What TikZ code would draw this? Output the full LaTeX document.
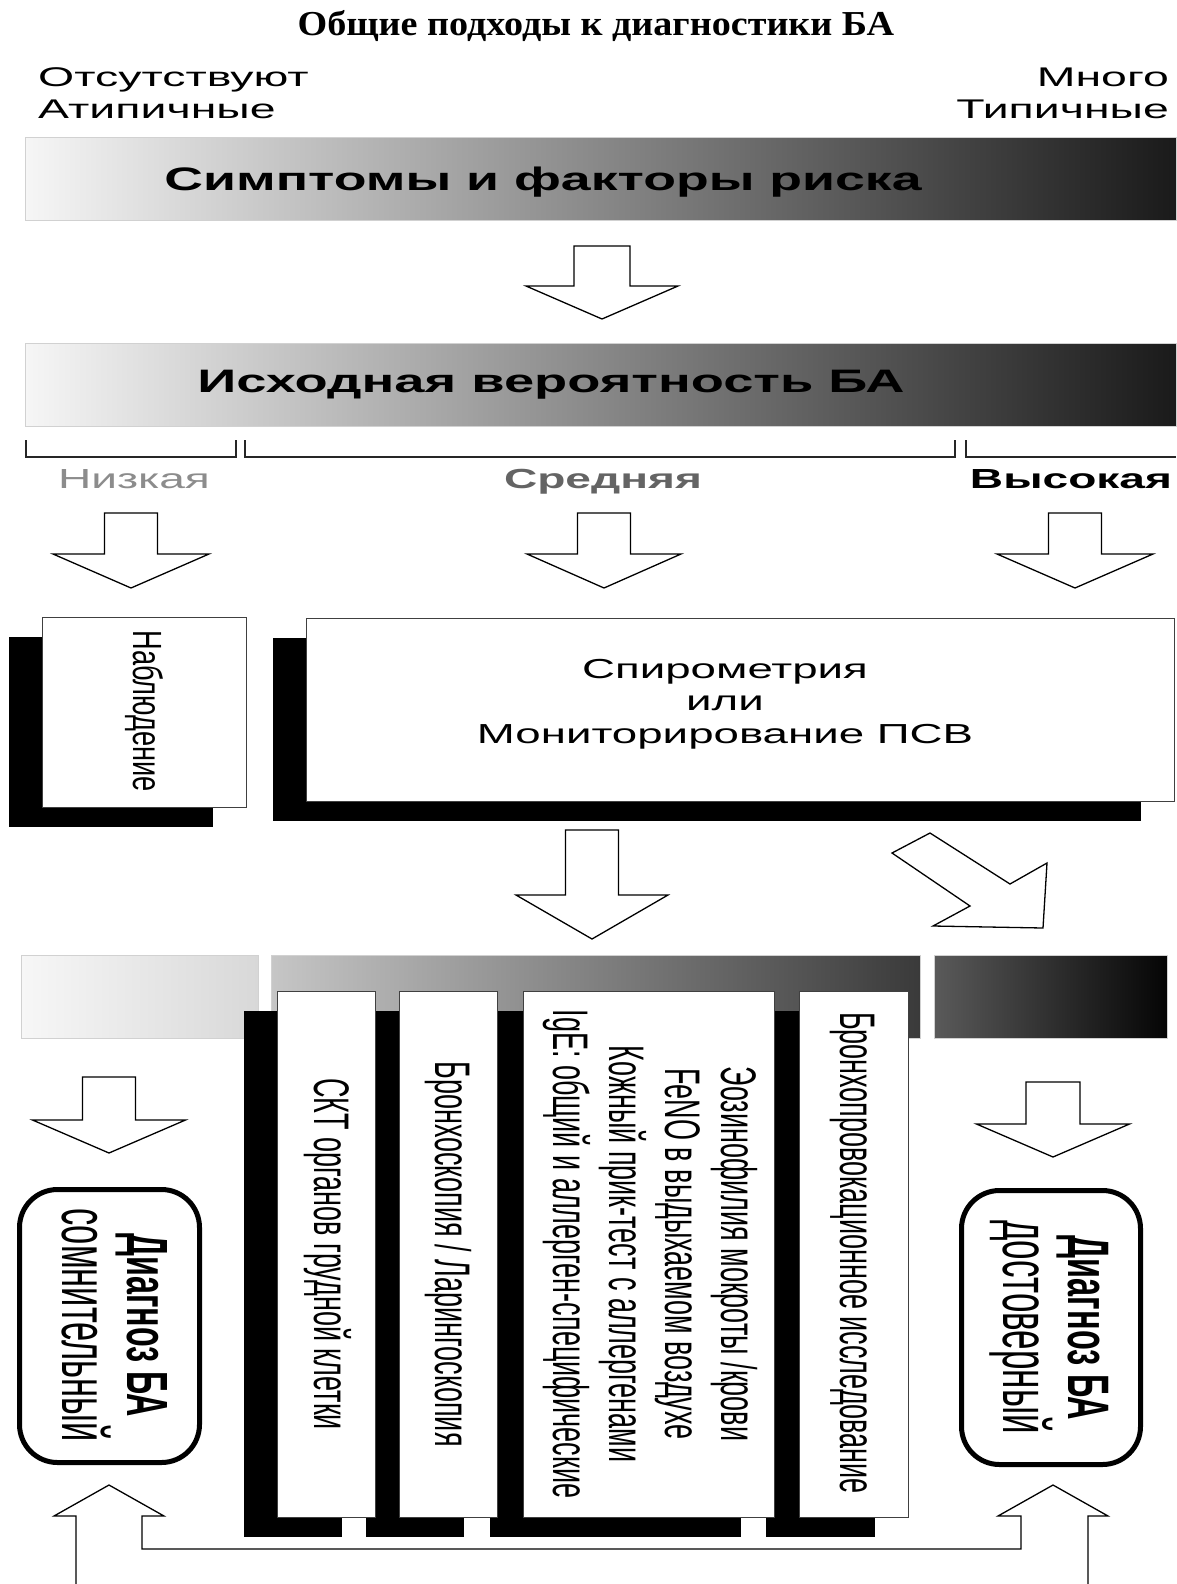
\documentclass[tikz,border=0pt]{standalone}
\usepackage{fontspec}
\setmainfont{Liberation Sans}
\newfontfamily\serifttl{Liberation Serif}
\usepackage{graphicx}
\newcommand{\fs}[1]{\fontsize{#1}{#1}\selectfont}
\newcommand{\hx}[2]{\scalebox{#1}[1]{#2}}
\newcommand{\vx}[2]{\scalebox{1}[#1]{#2}}
\definecolor{barL}{HTML}{F6F6F6}
\definecolor{barR}{HTML}{1A1A1A}
\definecolor{bOneL}{HTML}{F7F7F7}
\definecolor{bOneR}{HTML}{D8D8D8}
\definecolor{bTwoL}{HTML}{C6C6C6}
\definecolor{bTwoR}{HTML}{3A3A3A}
\definecolor{bThrL}{HTML}{5A5A5A}
\definecolor{bThrR}{HTML}{050505}
\definecolor{lowgray}{HTML}{8C8C8C}
\definecolor{midgray}{HTML}{646464}
\newcommand{\dnarrow}[6]{%
  \draw[blockarrow] (#1-#5,#2) -- (#1+#5,#2) -- (#1+#5,#3) -- (#1+#6,#3) -- (#1,#4) -- (#1-#6,#3) -- (#1-#5,#3) -- cycle;}
\begin{document}
\begin{tikzpicture}[x=1pt,y=-1pt,
  blockarrow/.style={draw=black, line width=1.3pt, fill=white, line join=miter},
  gbar/.style={draw=black!18, line width=1pt, inner sep=0pt},
  whitebox/.style={draw=black!75, line width=1pt, fill=white, inner sep=0pt},
  shadowbox/.style={fill=black, inner sep=0pt},
  diagbox/.style={draw=black, line width=5pt, rounded corners=38pt, fill=white, inner sep=0pt},
  txt/.style={inner sep=0pt, anchor=base},
  vtxt/.style={inner sep=0pt, rotate=-90},
  bracket/.style={draw=black!85, line width=1.4pt}
]
\fill[white] (0,0) rectangle (1176,1584);
\useasboundingbox (0,0) rectangle (1176,1584);

% title
\node[txt, font=\serifttl\bfseries\fs{35}] (title) at (596,35.5) {\hx{1.09}{Общие подходы к диагностики БА}};

% top labels
\node[txt, anchor=base west, font=\fs{27}] (absent) at (38,87) {\hx{1.72}{Отсутствуют}};
\node[txt, anchor=base west, font=\fs{27}] (atyp) at (38,118) {\hx{1.72}{Атипичные}};
\node[txt, anchor=base east, font=\fs{27}] (many) at (1169,87) {\hx{1.72}{Много}};
\node[txt, anchor=base east, font=\fs{27}] (typ) at (1169,118) {\hx{1.72}{Типичные}};

% bar 1
\node[gbar, left color=barL, right color=barR, minimum width=1151pt, minimum height=82pt] (bar1) at (600.5,179) {};
\node[txt, font=\bfseries\fs{32.5}] (bar1t) at (543,190) {\hx{1.65}{Симптомы и факторы риска}};

\dnarrow{602}{246}{286}{319}{28}{76}

% bar 2
\node[gbar, left color=barL, right color=barR, minimum width=1151pt, minimum height=83pt] (bar2) at (600.5,384.5) {};
\node[txt, font=\bfseries\fs{32.5}] (bar2t) at (551,392) {\hx{1.67}{Исходная вероятность БА}};

% brackets
\draw[bracket] (26,440) -- (26,457) -- (236,457) -- (236,440);
\draw[bracket] (245,440) -- (245,457) -- (955,457) -- (955,440);
\draw[bracket] (966,440) -- (966,457) -- (1176,457);

% probability labels
\node[txt, text=lowgray, font=\fs{27.6}] (low) at (134,488) {\hx{1.67}{Низкая}};
\node[txt, text=midgray, font=\bfseries\fs{27.6}] (mid) at (603,488) {\hx{1.67}{Средняя}};
\node[txt, text=black, font=\bfseries\fs{27.6}] (high) at (1071,488) {\hx{1.67}{Высокая}};

\dnarrow{131}{513}{554}{588}{26.5}{78}
\dnarrow{604}{513}{554}{588}{26.5}{77}
\dnarrow{1075}{513}{554}{588}{26.5}{78}

% observation box
\node[shadowbox, minimum width=204pt, minimum height=190pt] (obsS) at (111,732) {};
\node[whitebox, minimum width=204pt, minimum height=190pt] (obs) at (144,712) {};
\node[vtxt, font=\fs{27.2}] (obst) at (144,711) {\vx{1.5}{Наблюдение}};

% spirometry box
\node[shadowbox, minimum width=868pt, minimum height=183pt] (spiS) at (707,729.5) {};
\node[whitebox, minimum width=868pt, minimum height=183pt] (spi) at (740,709.5) {};
\node[txt, font=\fs{27.5}] (spi1) at (725,678) {\hx{1.66}{Спирометрия}};
\node[txt, font=\fs{27.5}] (spi2) at (725,710) {\hx{1.66}{или}};
\node[txt, font=\fs{27.5}] (spi3) at (725,743) {\hx{1.66}{Мониторирование ПСВ}};

\dnarrow{592}{830}{895}{939}{26.5}{76}
\draw[blockarrow] (930,833) -- (1010,884) -- (1047,863) -- (1043,928) -- (933,926) -- (970,906) -- (892,853) -- cycle;

% bottom gradient bars
\node[gbar, left color=bOneL, right color=bOneR, minimum width=237pt, minimum height=83pt] (barA) at (139.5,996.5) {};
\node[gbar, left color=bTwoL, right color=bTwoR, minimum width=649pt, minimum height=83pt] (barB) at (595.5,996.5) {};
\node[gbar, left color=bThrL, right color=bThrR, minimum width=233pt, minimum height=83pt] (barC) at (1050.5,996.5) {};

% column shadows
\node[shadowbox, minimum width=98pt, minimum height=526pt] (c1S) at (293,1274) {};
\node[shadowbox, minimum width=98pt, minimum height=526pt] (c2S) at (415,1274) {};
\node[shadowbox, minimum width=251pt, minimum height=526pt] (c3S) at (615.5,1274) {};
\node[shadowbox, minimum width=109pt, minimum height=526pt] (c4S) at (820.5,1274) {};
% columns
\node[whitebox, minimum width=98pt, minimum height=526pt] (c1) at (326,1254) {};
\node[whitebox, minimum width=98pt, minimum height=526pt] (c2) at (448,1254) {};
\node[whitebox, minimum width=251pt, minimum height=526pt] (c3) at (648.5,1254) {};
\node[whitebox, minimum width=109pt, minimum height=526pt] (c4) at (853.5,1254) {};

\node[vtxt, font=\fs{27}] (c1t) at (327.5,1254) {\vx{1.85}{СКТ органов грудной клетки}};
\node[vtxt, font=\fs{27}] (c2t) at (448.5,1254) {\vx{1.85}{Бронхоскопия / Ларингоскопия}};
\node[vtxt] (c3t) at (649,1254) {\vx{1.85}{\fontsize{27}{30.3}\selectfont\begin{tabular}{@{}c@{}}Эозинофилия мокроты /крови\\FeNO в выдыхаемом воздухе\\Кожный прик-тест с аллергенами\\IgE: общий и аллерген-специфические\end{tabular}}};
\node[vtxt, font=\fs{27}] (c4t) at (852.5,1253) {\vx{1.85}{Бронхопровокационное исследование}};

% arrows to diagnoses
\dnarrow{109}{1077}{1120}{1153}{26.5}{76.5}
\dnarrow{1053}{1082}{1124}{1157}{27}{76.5}

% diagnosis boxes
\node[diagbox, minimum width=180pt, minimum height=273pt] (dL) at (109.5,1326) {};
\node[vtxt, anchor=base, font=\bfseries\fs{32.3}] (dL1) at (127,1325) {\vx{1.8}{Диагноз БА}};
\node[vtxt, anchor=base, font=\fs{34.5}] (dL2) at (62,1325) {\vx{1.9}{сомнительный}};
\node[diagbox, minimum width=179pt, minimum height=274pt] (dR) at (1051,1327.5) {};
\node[vtxt, anchor=base, font=\bfseries\fs{32.5}] (dR1) at (1068.5,1328) {\vx{1.8}{Диагноз БА}};
\node[vtxt, anchor=base, font=\fs{35}] (dR2) at (1003.5,1327) {\vx{1.9}{достоверный}};

% double up arrow
\draw[blockarrow, fill=none] (76,1584) -- (76,1516) -- (54,1516) -- (109,1485) -- (164,1516) -- (142,1516) -- (142,1549)
  -- (1021,1549) -- (1021,1516) -- (998,1516) -- (1053,1485) -- (1108,1516) -- (1088,1516) -- (1088,1584);
\end{tikzpicture}
\end{document}
